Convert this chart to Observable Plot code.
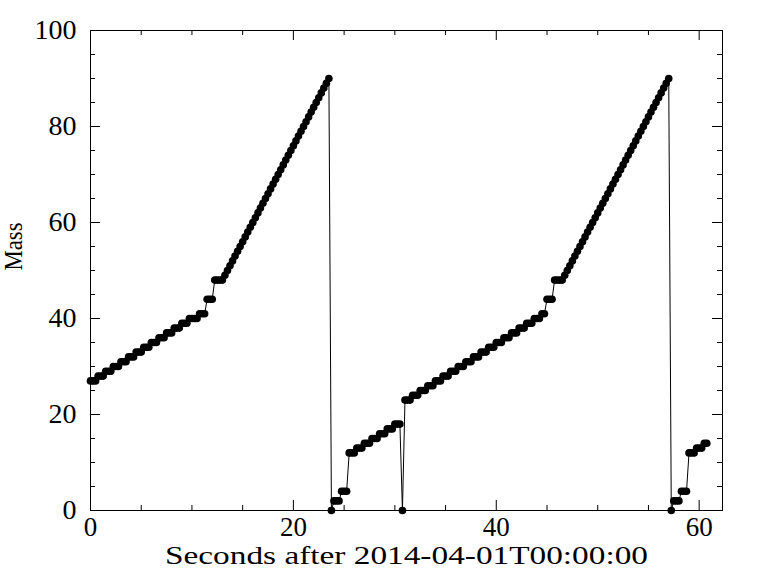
<!DOCTYPE html>
<html>
<head>
<meta charset="utf-8">
<script src="https://cdn.jsdelivr.net/npm/d3@7"></script>
<script src="https://cdn.jsdelivr.net/npm/@observablehq/plot@0.6"></script>
<style>
  html, body { margin: 0; padding: 0; background: #fff; }
  #chart svg { display: block; }
</style>
</head>
<body>
<div id="chart"></div>
<script>
// Sample times (seconds after 2014-04-01T00:00:00), one row per second
const times = [
  0,0.25,0.5,0.75, 1,1.25,1.5,1.75, 2,2.25,2.5,2.75, 3,3.25,3.5,3.75, 4,4.25,4.5,4.75,
  5,5.25,5.5,5.75, 6,6.25,6.5,6.75, 7,7.25,7.5,7.75, 8,8.25,8.5,8.75, 9,9.25,9.5,9.75,
  10,10.25,10.5,10.75, 11,11.25,11.5,11.75, 12,12.25,12.5,12.75, 13,13.25,13.5,13.75, 14,14.25,14.5,14.75,
  15,15.25,15.5,15.75, 16,16.25,16.5,16.75, 17,17.25,17.5,17.75, 18,18.25,18.5,18.75, 19,19.25,19.5,19.75,
  20,20.25,20.5,20.75, 21,21.25,21.5,21.75, 22,22.25,22.5,22.75, 23,23.25,23.5,23.75, 24,24.25,24.5,24.75,
  25,25.25,25.5,25.75, 26,26.25,26.5,26.75, 27,27.25,27.5,27.75, 28,28.25,28.5,28.75, 29,29.25,29.5,29.75,
  30,30.25,30.5,30.75, 31,31.25,31.5,31.75, 32,32.25,32.5,32.75, 33,33.25,33.5,33.75, 34,34.25,34.5,34.75,
  35,35.25,35.5,35.75, 36,36.25,36.5,36.75, 37,37.25,37.5,37.75, 38,38.25,38.5,38.75, 39,39.25,39.5,39.75,
  40,40.25,40.5,40.75, 41,41.25,41.5,41.75, 42,42.25,42.5,42.75, 43,43.25,43.5,43.75, 44,44.25,44.5,44.75,
  45,45.25,45.5,45.75, 46,46.25,46.5,46.75, 47,47.25,47.5,47.75, 48,48.25,48.5,48.75, 49,49.25,49.5,49.75,
  50,50.25,50.5,50.75, 51,51.25,51.5,51.75, 52,52.25,52.5,52.75, 53,53.25,53.5,53.75, 54,54.25,54.5,54.75,
  55,55.25,55.5,55.75, 56,56.25,56.5,56.75, 57,57.25,57.5,57.75, 58,58.25,58.5,58.75, 59,59.25,59.5,59.75,
  60,60.25,60.5,60.75
];
// Mass, aligned with times
const mass = [
  27,27,27,28, 28,28,29,29, 29,30,30,30, 31,31,31,32, 32,32,33,33,
  33,34,34,34, 35,35,35,36, 36,36,37,37, 37,38,38,38, 39,39,39,40,
  40,40,40,41, 41,41,44,44, 44,48,48,48, 48,49,50,51, 52,53,54,55,
  56,57,58,59, 60,61,62,63, 64,65,66,67, 68,69,70,71, 72,73,74,75,
  76,77,78,79, 80,81,82,83, 84,85,86,87, 88,89,90,0, 2,2,2,4,
  4,4,12,12, 12,13,13,13, 14,14,14,15, 15,15,16,16, 16,17,17,17,
  18,18,18,0, 23,23,23,24, 24,24,25,25, 25,26,26,26, 27,27,27,28,
  28,28,29,29, 29,30,30,30, 31,31,31,32, 32,32,33,33, 33,34,34,34,
  35,35,35,36, 36,36,37,37, 37,38,38,38, 39,39,39,40, 40,40,41,41,
  44,44,44,48, 48,48,48,49, 50,51,52,53, 54,55,56,57, 58,59,60,61,
  62,63,64,65, 66,67,68,69, 70,71,72,73, 74,75,76,77, 78,79,80,81,
  82,83,84,85, 86,87,88,89, 90,0,2,2, 2,4,4,4, 12,12,12,13,
  13,13,14,14
];
const xMajor = [0, 20, 40, 60];
const xMinor = [5, 10, 15, 25, 30, 35, 45, 50, 55];
const yMajor = [0, 20, 40, 60, 80, 100];
const yMinor = [5, 10, 15, 25, 30, 35, 45, 50, 55, 65, 70, 75, 85, 90, 95];
const xLabel = "Seconds after 2014-04-01T00:00:00";
const yLabel = "Mass";

const data = times.map((t, i) => ({t, m: mass[i]}));

const W = 768, H = 574, mL = 90, mR = 46, mT = 30, mB = 64;
const fw = W - mL - mR, fh = H - mT - mB;
const font = "'Liberation Serif', serif";

const chart = Plot.plot({
  width: W, height: H,
  marginLeft: mL, marginRight: mR, marginTop: mT, marginBottom: mB,
  x: {domain: [0, 62.3]},
  y: {domain: [0, 100]},
  style: {fontFamily: font, fontSize: "28px", color: "black", background: "white"},
  marks: [
    Plot.frame({stroke: "black", strokeWidth: 1}),
    // inward ticks on all four sides
    Plot.tickX(xMajor, {x: d => d, insetTop: fh - 10, stroke: "black"}),
    Plot.tickX(xMajor, {x: d => d, insetBottom: fh - 10, stroke: "black"}),
    Plot.tickX(xMinor, {x: d => d, insetTop: fh - 5, stroke: "black"}),
    Plot.tickX(xMinor, {x: d => d, insetBottom: fh - 5, stroke: "black"}),
    Plot.tickY(yMajor, {y: d => d, insetRight: fw - 10, stroke: "black"}),
    Plot.tickY(yMajor, {y: d => d, insetLeft: fw - 10, stroke: "black"}),
    Plot.tickY(yMinor, {y: d => d, insetRight: fw - 5, stroke: "black"}),
    Plot.tickY(yMinor, {y: d => d, insetLeft: fw - 5, stroke: "black"}),
    Plot.axisX({ticks: xMajor, tickSize: 0, tickPadding: 6, label: null, tickFormat: d => String(d), fontSize: 27}),
    Plot.axisY({ticks: yMajor, tickSize: 0, tickPadding: 14, label: null, tickFormat: d => String(d), fontSize: 28}),
    Plot.text([xLabel], {frameAnchor: "bottom", dy: 53, fontSize: 25, fill: "black"}),
    Plot.text([yLabel], {frameAnchor: "left", dx: -77, rotate: -90, fontSize: 26, fill: "black"}),
    Plot.line(data, {x: "t", y: "m", stroke: "black", strokeWidth: 1}),
    Plot.dot(data, {x: "t", y: "m", r: 3.8, fill: "black", stroke: "none"})
  ]
});

// stretch/condense titles to the proportions of the reference font
chart.querySelectorAll("text").forEach(el => {
  if (el.textContent === xLabel) {
    el.setAttribute("textLength", 483);
    el.setAttribute("lengthAdjust", "spacingAndGlyphs");
  }
  if (el.textContent === yLabel) {
    el.setAttribute("textLength", 48);
    el.setAttribute("lengthAdjust", "spacingAndGlyphs");
  }
});

document.getElementById("chart").appendChild(chart);
</script>
</body>
</html>
